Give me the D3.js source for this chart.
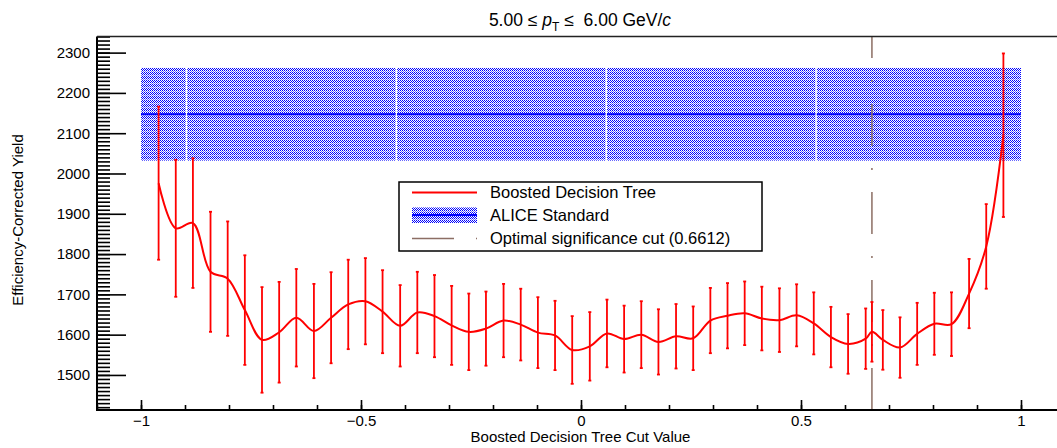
<!DOCTYPE html>
<html>
<head>
<meta charset="utf-8">
<script src="https://cdn.jsdelivr.net/npm/d3@7"></script>
<style>
  body { margin: 0; background: #fff; }
  svg { display: block; font-family: "Liberation Sans", Arial, Helvetica, sans-serif; }
  .axis path.domain { display: none; }
  .axis line { stroke: #000; stroke-width: 1.6; }
  .axis text { font-size: 15px; fill: #000; }
</style>
</head>
<body>
<svg id="chart" width="1057" height="448"></svg>
<script>
// BDT cut values (x) and efficiency-corrected yields with errors
const cutValues = [-0.960, -0.921, -0.882, -0.842, -0.803, -0.764, -0.725, -0.686, -0.647, -0.607,
                   -0.568, -0.529, -0.490, -0.451, -0.411, -0.372, -0.333, -0.294, -0.255, -0.216,
                   -0.176, -0.137, -0.098, -0.059, -0.020, 0.020, 0.059, 0.098, 0.137, 0.176,
                   0.216, 0.255, 0.294, 0.333, 0.372, 0.411, 0.451, 0.490, 0.529, 0.568,
                   0.607, 0.647, 0.6612, 0.686, 0.725, 0.764, 0.803, 0.842, 0.882, 0.921, 0.960];
const yields = [1976, 1864, 1877, 1756, 1739, 1661, 1587, 1606, 1642, 1609,
                1642, 1675, 1683, 1657, 1622, 1655, 1646, 1623, 1607, 1615,
                1635, 1625, 1605, 1598, 1562, 1571, 1603, 1589, 1600, 1582,
                1596, 1591, 1635, 1647, 1653, 1640, 1636, 1648, 1628, 1594,
                1577, 1590, 1607, 1587, 1568, 1602, 1627, 1626, 1702, 1819, 2095];
const yieldErrors = [190, 170, 161, 149, 142, 136, 131, 125, 121, 117,
                     113, 111, 107, 103, 101, 101, 102, 98, 95, 92,
                     91, 89, 88, 86, 84, 85, 84, 83, 83, 81,
                     80, 79, 81, 81, 79, 79, 79, 77, 77, 75,
                     74, 75, 74, 74, 75, 77, 77, 79, 86, 105, 203];

// ALICE standard yield band
const aliceYield = 2147;
const aliceError = 115;
const bandEdges = [-1, -0.895, -0.418, 0.059, 0.536, 1];

const optimalCut = 0.6612;

const xTicks = [-1, -0.5, 0, 0.5, 1];
const yTicks = [1500, 1600, 1700, 1800, 1900, 2000, 2100, 2200, 2300];

const legendLabels = ["Boosted Decision Tree", "ALICE Standard", "Optimal significance cut (0.6612)"];

const svg = d3.select("#chart");
const padL = 97, padB = 410, padT = 36.5, padR = 1065;

const x = d3.scaleLinear().domain([-1.1, 1.1]).range([padL, padR]);
const y = d3.scaleLinear().domain([1413, 2340]).range([padB, padT]);

// checker fill like ROOT's hatch style
const defs = svg.append("defs");
const pat = defs.append("pattern")
  .attr("id", "checker")
  .attr("width", 4).attr("height", 4)
  .attr("patternUnits", "userSpaceOnUse");
pat.append("rect").attr("width", 4).attr("height", 4).attr("fill", "#fff");
[[0, 0], [2, 0], [1, 1], [3, 1], [0, 2], [2, 2], [1, 3], [3, 3]].forEach(([px, py]) => {
  pat.append("rect").attr("x", px).attr("y", py).attr("width", 1).attr("height", 1)
    .attr("fill", py === 3 ? "#7070ff" : "#0000ff");
});

const segs = d3.pairs(bandEdges);
const band = svg.append("g");
band.selectAll("rect")
  .data(segs)
  .join("rect")
    .attr("x", d => x(d[0]))
    .attr("width", (d, i) => x(d[1]) - x(d[0]) - (i < segs.length - 1 ? 1.5 : 0))
    .attr("y", y(aliceYield + aliceError))
    .attr("height", y(aliceYield - aliceError) - y(aliceYield + aliceError))
    .attr("fill", "url(#checker)");
band.selectAll("line")
  .data(segs)
  .join("line")
    .attr("x1", d => x(d[0]))
    .attr("x2", (d, i) => x(d[1]) - (i < segs.length - 1 ? 1.5 : 0))
    .attr("y1", y(aliceYield))
    .attr("y2", y(aliceYield))
    .attr("stroke", "#0000ff")
    .attr("stroke-width", 2);

// optimal cut line
svg.append("line")
  .attr("x1", x(optimalCut)).attr("x2", x(optimalCut))
  .attr("y1", padB).attr("y2", padT)
  .attr("stroke", "#8c6e64")
  .attr("stroke-width", 1.5)
  .attr("stroke-dasharray", "42,22,2,22");

// BDT curve
const pts = cutValues.map((c, i) => ({x: c, v: yields[i], e: yieldErrors[i]}));
const line = d3.line()
  .x(d => x(d.x))
  .y(d => y(d.v))
  .curve(d3.curveCatmullRom.alpha(0.5));

svg.append("path")
  .datum(pts)
  .attr("d", line)
  .attr("fill", "none")
  .attr("stroke", "#ff0000")
  .attr("stroke-width", 2);

const bars = svg.append("g").attr("stroke", "#ff0000").attr("stroke-width", 1.8);
bars.selectAll("line.bar")
  .data(pts)
  .join("line")
    .attr("class", "bar")
    .attr("x1", d => x(d.x)).attr("x2", d => x(d.x))
    .attr("y1", d => y(d.v - d.e)).attr("y2", d => y(d.v + d.e));
bars.selectAll("line.capTop")
  .data(pts)
  .join("line")
    .attr("class", "capTop")
    .attr("x1", d => x(d.x) - 1.5).attr("x2", d => x(d.x) + 1.5)
    .attr("y1", d => y(d.v + d.e)).attr("y2", d => y(d.v + d.e));
bars.selectAll("line.capBot")
  .data(pts)
  .join("line")
    .attr("class", "capBot")
    .attr("x1", d => x(d.x) - 1.5).attr("x2", d => x(d.x) + 1.5)
    .attr("y1", d => y(d.v - d.e)).attr("y2", d => y(d.v - d.e));

// axes (ticks pointing inwards, ROOT style)
svg.append("g")
  .attr("class", "axis")
  .attr("transform", "translate(" + padL + ",0)")
  .call(d3.axisLeft(y).tickValues(d3.range(1420, 2341, 10)).tickSize(-13).tickFormat(""));
svg.append("g")
  .attr("class", "axis")
  .attr("transform", "translate(" + padL + ",0)")
  .call(d3.axisLeft(y).tickValues(yTicks).tickSize(-29).tickPadding(7).tickFormat(d3.format("d")));

svg.append("g")
  .attr("class", "axis")
  .attr("transform", "translate(0," + padB + ")")
  .call(d3.axisBottom(x).ticks(22).tickSize(-5).tickFormat(""));
svg.append("g")
  .attr("class", "axis")
  .attr("transform", "translate(0," + padB + ")")
  .call(d3.axisBottom(x).tickValues(xTicks).tickSize(-10).tickPadding(5).tickFormat(d3.format("")));

// frame
svg.append("line").attr("x1", padL).attr("x2", 1057).attr("y1", padB).attr("y2", padB)
  .attr("stroke", "#000").attr("stroke-width", 2);
svg.append("line").attr("x1", padL).attr("x2", padL).attr("y1", padT).attr("y2", padB + 1)
  .attr("stroke", "#000").attr("stroke-width", 2);
svg.append("line").attr("x1", padL).attr("x2", 1057).attr("y1", padT).attr("y2", padT)
  .attr("stroke", "#222").attr("stroke-width", 1.5);

// axis titles
svg.append("text")
  .attr("x", 580.5).attr("y", 441.5)
  .attr("text-anchor", "middle")
  .style("font-size", "15px")
  .text("Boosted Decision Tree Cut Value");

svg.append("text")
  .attr("transform", "translate(23,220) rotate(-90)")
  .attr("text-anchor", "middle")
  .style("font-size", "15px")
  .text("Efficiency-Corrected Yield");

// title
const title = svg.append("text")
  .attr("x", 580).attr("y", 26)
  .attr("text-anchor", "middle")
  .style("white-space", "pre")
  .style("font-size", "17.5px");
title.append("tspan").text("5.00 \u2264 ");
title.append("tspan").style("font-style", "italic").text("p");
title.append("tspan").attr("dy", 5).style("font-size", "12px").text("T");
title.append("tspan").attr("dy", -5).text(" \u2264  6.00 GeV/");
title.append("tspan").style("font-style", "italic").text("c");

// legend
const lg = svg.append("g");
lg.append("rect")
  .attr("x", 399).attr("y", 182).attr("width", 363).attr("height", 69)
  .attr("fill", "#fff").attr("stroke", "#000").attr("stroke-width", 1.5);
const rowY = [192.5, 215, 238.5];
lg.append("line").attr("x1", 412).attr("x2", 477).attr("y1", rowY[0]).attr("y2", rowY[0])
  .attr("stroke", "#ff0000").attr("stroke-width", 2);
lg.append("rect").attr("x", 412).attr("y", rowY[1] - 8).attr("width", 65).attr("height", 16)
  .attr("fill", "url(#checker)");
lg.append("line").attr("x1", 412).attr("x2", 477).attr("y1", rowY[1]).attr("y2", rowY[1])
  .attr("stroke", "#0000ff").attr("stroke-width", 2);
lg.append("line").attr("x1", 412).attr("x2", 477).attr("y1", rowY[2]).attr("y2", rowY[2])
  .attr("stroke", "#8c6e64").attr("stroke-width", 1.5).attr("stroke-dasharray", "42,22,2,22");
lg.selectAll("text")
  .data(legendLabels)
  .join("text")
    .attr("x", 490)
    .attr("y", (d, i) => rowY[i])
    .attr("dy", "0.36em")
    .style("font-size", "16.5px")
    .text(d => d);
</script>
</body>
</html>
